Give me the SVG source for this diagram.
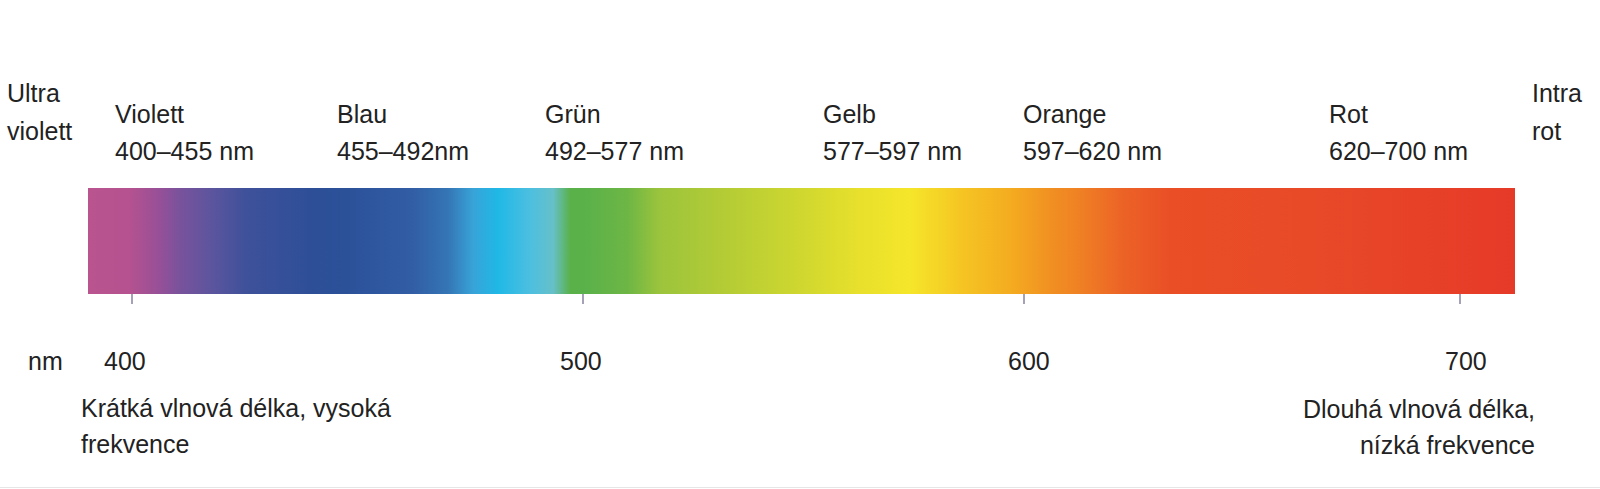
<svg xmlns="http://www.w3.org/2000/svg" width="1600" height="489" viewBox="0 0 1600 489">
<style>
text{font-family:"Liberation Sans",Arial,sans-serif;font-size:25px;fill:#222}
.end{text-anchor:end}
.tick{stroke:#8a82a0;stroke-width:1.5}
</style>
<defs>
<linearGradient id="spec" gradientUnits="userSpaceOnUse" x1="88" y1="0" x2="1515" y2="0">
<stop offset="0" stop-color="#b9548f"/>
<stop offset="0.029" stop-color="#b5528f"/>
<stop offset="0.048" stop-color="#9a5097"/>
<stop offset="0.064" stop-color="#7a529c"/>
<stop offset="0.088" stop-color="#5a559e"/>
<stop offset="0.111" stop-color="#3e519a"/>
<stop offset="0.158" stop-color="#2d4f98"/>
<stop offset="0.182" stop-color="#2b5199"/>
<stop offset="0.228" stop-color="#325ea6"/>
<stop offset="0.252" stop-color="#3475b5"/>
<stop offset="0.270" stop-color="#38a3d8"/>
<stop offset="0.287" stop-color="#1fb8e6"/>
<stop offset="0.310" stop-color="#4dbfe0"/>
<stop offset="0.326" stop-color="#66c0c8"/>
<stop offset="0.338" stop-color="#5ab14a"/>
<stop offset="0.348" stop-color="#5ab14a"/>
<stop offset="0.378" stop-color="#6db645"/>
<stop offset="0.401" stop-color="#9cc43c"/>
<stop offset="0.448" stop-color="#b5cc35"/>
<stop offset="0.494" stop-color="#ccd630"/>
<stop offset="0.541" stop-color="#e8e02c"/>
<stop offset="0.576" stop-color="#f5e62a"/>
<stop offset="0.611" stop-color="#f5c623"/>
<stop offset="0.646" stop-color="#f4ac20"/>
<stop offset="0.681" stop-color="#f08a22"/>
<stop offset="0.690" stop-color="#f08524"/>
<stop offset="0.725" stop-color="#ec6326"/>
<stop offset="0.760" stop-color="#e94e26"/>
<stop offset="0.854" stop-color="#e84a28"/>
<stop offset="1" stop-color="#e63a28"/>
</linearGradient>
</defs>
<rect width="1600" height="489" fill="#ffffff"/>
<line x1="0" y1="487.5" x2="1600" y2="487.5" stroke="#e6e6e6" stroke-width="1"/>
<g id="spectrum">
<rect x="88" y="188" width="1427" height="106" fill="url(#spec)"/>
</g>
<g id="ticks">
<line class="tick" x1="132" y1="294" x2="132" y2="304"/>
<line class="tick" x1="583" y1="294" x2="583" y2="304"/>
<line class="tick" x1="1024" y1="294" x2="1024" y2="304"/>
<line class="tick" x1="1460" y1="294" x2="1460" y2="304"/>
</g>
<g id="uv"><text x="7" y="102">Ultra</text><text x="7" y="140">violett</text></g>
<g id="violett"><text x="115" y="123">Violett</text><text x="115" y="160">400–455 nm</text></g>
<g id="blau"><text x="337" y="123">Blau</text><text x="337" y="160">455–492nm</text></g>
<g id="gruen"><text x="545" y="123">Grün</text><text x="545" y="160">492–577 nm</text></g>
<g id="gelb"><text x="823" y="123">Gelb</text><text x="823" y="160">577–597 nm</text></g>
<g id="orange"><text x="1023" y="123">Orange</text><text x="1023" y="160">597–620 nm</text></g>
<g id="rot"><text x="1329" y="123">Rot</text><text x="1329" y="160">620–700 nm</text></g>
<g id="ir"><text x="1532" y="102">Intra</text><text x="1532" y="140">rot</text></g>
<g id="scale">
<text x="28" y="370">nm</text>
<text x="104" y="370">400</text>
<text x="560" y="370">500</text>
<text x="1008" y="370">600</text>
<text x="1445" y="370">700</text>
</g>
<g id="short"><text x="81" y="417">Krátká vlnová délka, vysoká</text><text x="81" y="453">frekvence</text></g>
<g id="long"><text class="end" x="1535" y="418">Dlouhá vlnová délka,</text><text class="end" x="1535" y="454">nízká frekvence</text></g>
</svg>
